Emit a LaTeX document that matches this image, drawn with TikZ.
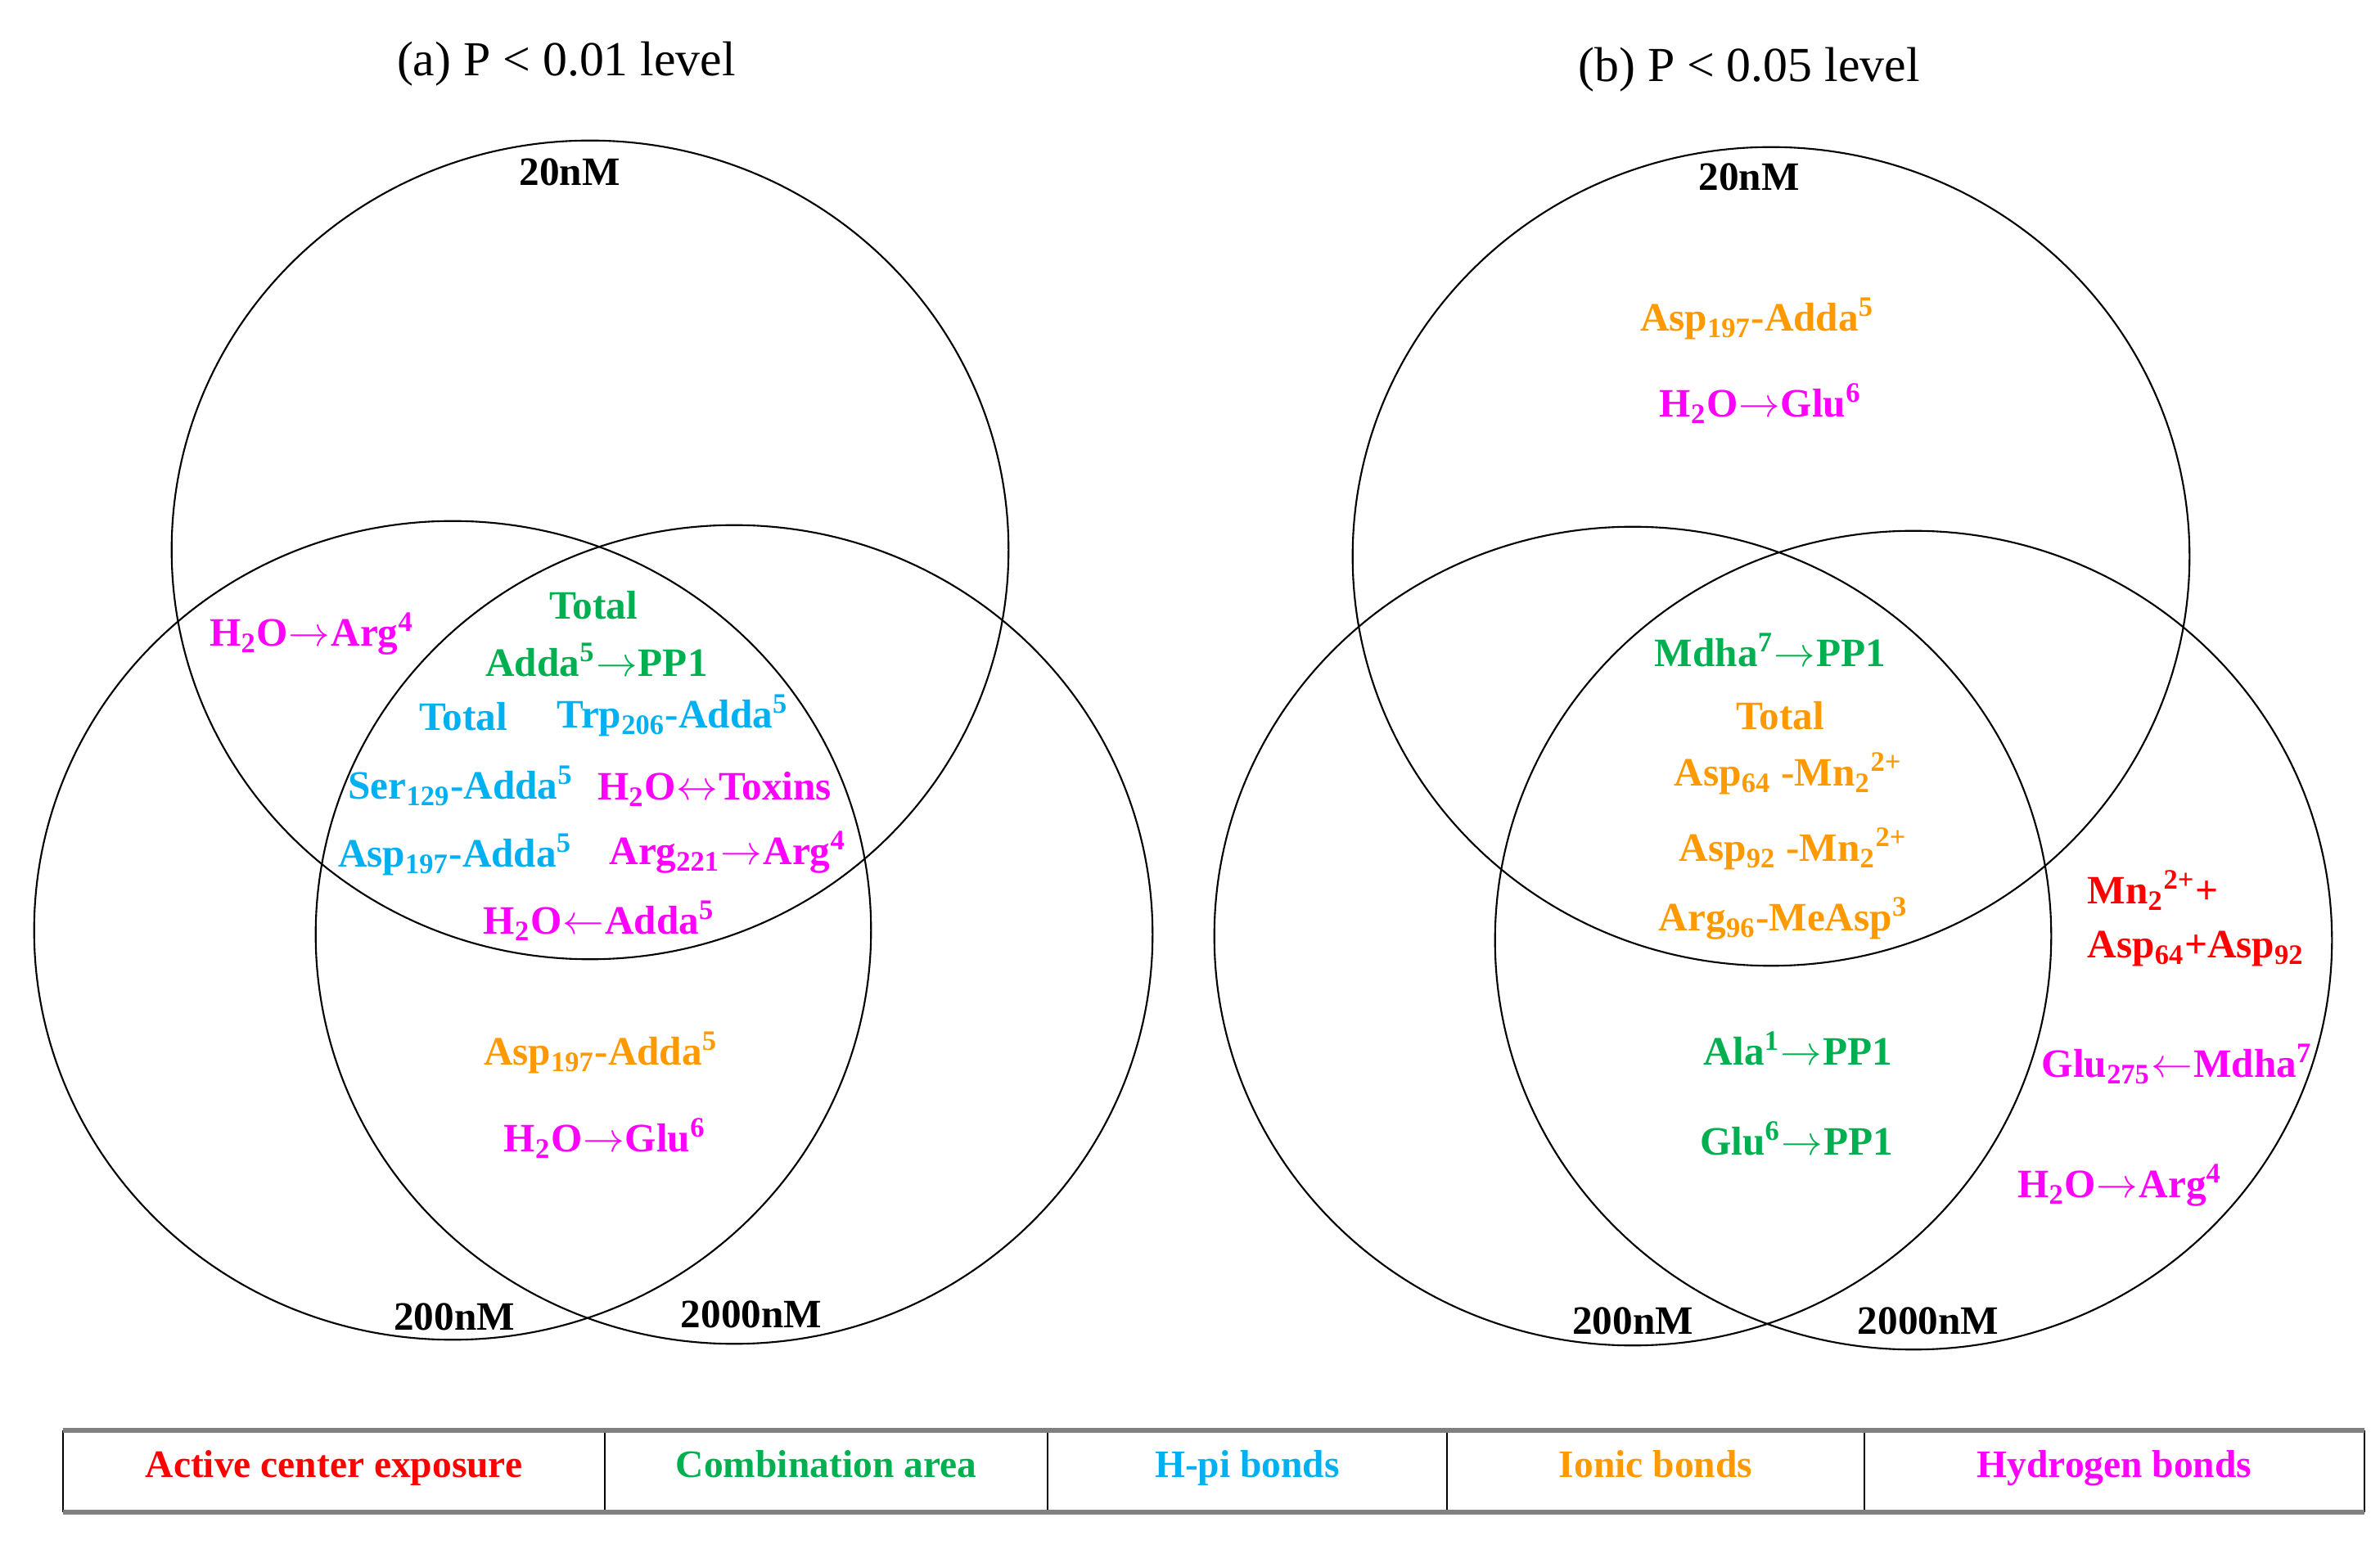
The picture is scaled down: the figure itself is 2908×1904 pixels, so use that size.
\documentclass[tikz,border=0pt]{standalone}
\usepackage{fontspec}
\setmainfont{Liberation Serif}
\definecolor{cRed}{RGB}{255,0,0}
\definecolor{cGreen}{RGB}{0,176,80}
\definecolor{cCyan}{RGB}{0,176,240}
\definecolor{cOrange}{RGB}{255,153,0}
\definecolor{cMag}{RGB}{255,0,255}
\definecolor{cRule}{RGB}{128,128,128}
\newcommand{\mysb}[1]{\textsubscript{#1}}
\newcommand{\mysp}[1]{\textsuperscript{#1}}
\newcommand{\myra}{\kern0.02em$\rightarrow$\kern0.02em}
\newcommand{\myla}{\kern0.02em$\leftarrow$\kern0.02em}
\newcommand{\mylra}{\kern0.02em$\leftrightarrow$\kern0.02em}
\begin{document}
\begin{tikzpicture}[x=0.01cm,y=-0.01cm,
  lab/.style={font=\fontsize{14}{16}\selectfont\bfseries,inner sep=0pt,anchor=base},
  ttl/.style={font=\fontsize{17}{20}\selectfont,inner sep=0pt,anchor=base},
  leg/.style={font=\fontsize{13.5}{16}\selectfont\bfseries,inner sep=0pt,anchor=base},
  venn/.style={line width=0.6pt,black},
  cellline/.style={line width=0.6pt,black},
  bandline/.style={line width=1.5pt,cRule},
]
\path[use as bounding box] (0,0) rectangle (2908,1904);

% ---------- (a) ----------
\node[ttl] (ta) at (692,93) {(a) P < 0.01 level};
\draw[venn] (721,672) ellipse [x radius=5.11cm, y radius=5.00cm];
\draw[venn] (553,1137) ellipse [x radius=5.11cm, y radius=5.00cm];
\draw[venn] (897,1142) ellipse [x radius=5.11cm, y radius=5.00cm];
\node[lab] (a20) at (696,227) {20nM};
\node[lab] (a200) at (555,1625) {200nM};
\node[lab] (a2000) at (918,1622) {2000nM};

\node[lab,cMag] (a1) at (381,790) {H\mysb{2}O\myra Arg\mysp{4}};
\node[lab,cGreen] (a2) at (725,757) {Total};
\node[lab,cGreen] (a3) at (729,827) {Adda\mysp{5}\myra PP1};
\node[lab,cCyan] (a4) at (566,893) {Total};
\node[lab,cCyan] (a5) at (822,890) {Trp\mysb{206}-Adda\mysp{5}};
\node[lab,cCyan] (a6) at (563,977) {Ser\mysb{129}-Adda\mysp{5}};
\node[lab,cMag] (a7) at (873,978) {H\mysb{2}O\mylra Toxins};
\node[lab,cCyan] (a8) at (556,1060) {Asp\mysb{197}-Adda\mysp{5}};
\node[lab,cMag] (a9) at (889,1057) {Arg\mysb{221}\myra Arg\mysp{4}};
\node[lab,cMag] (a10) at (732,1142) {H\mysb{2}O\myla Adda\mysp{5}};
\node[lab,cOrange] (a11) at (734,1302) {Asp\mysb{197}-Adda\mysp{5}};
\node[lab,cMag] (a12) at (739,1408) {H\mysb{2}O\myra Glu\mysp{6}};

% ---------- (b) ----------
\node[ttl] (tb) at (2137,100) {(b) P < 0.05 level};
\draw[venn] (2164,680) ellipse [x radius=5.11cm, y radius=5.00cm];
\draw[venn] (1995,1144) ellipse [x radius=5.11cm, y radius=5.00cm];
\draw[venn] (2338,1149) ellipse [x radius=5.11cm, y radius=5.00cm];
\node[lab] (b20) at (2137,233) {20nM};
\node[lab] (b200) at (1995,1630) {200nM};
\node[lab] (b2000) at (2356,1630) {2000nM};

\node[lab,cOrange] (b1) at (2147,405) {Asp\mysb{197}-Adda\mysp{5}};
\node[lab,cMag] (b2) at (2151,510) {H\mysb{2}O\myra Glu\mysp{6}};
\node[lab,cGreen] (b3) at (2163,815) {Mdha\mysp{7}\myra PP1};
\node[lab,cOrange] (b4) at (2175,892) {Total};
\node[lab,cOrange] (b5) at (2185,961) {Asp\mysb{64} -Mn\mysb{2}\mysp{2+}};
\node[lab,cOrange] (b6) at (2191,1053) {Asp\mysb{92} -Mn\mysb{2}\mysp{2+}};
\node[lab,cOrange] (b7) at (2179,1138) {Arg\mysb{96}-MeAsp\mysp{3}};
\node[lab,cRed,anchor=base west] (b8) at (2550,1105) {Mn\mysb{2}\mysp{2+}+};
\node[lab,cRed,anchor=base west] (b9) at (2550,1171) {Asp\mysb{64}+Asp\mysb{92}};
\node[lab,cGreen] (b10) at (2197,1302) {Ala\mysp{1}\myra PP1};
\node[lab,cGreen] (b11) at (2195,1412) {Glu\mysp{6}\myra PP1};
\node[lab,cMag] (b12) at (2660,1317) {Glu\mysb{275}\myla Mdha\mysp{7}};
\node[lab,cMag] (b13) at (2590,1464) {H\mysb{2}O\myra Arg\mysp{4}};

% ---------- legend ----------
\foreach \xx in {77,739,1280,1768,2278,2889}
  \draw[cellline] (\xx,1748) -- (\xx,1848);
\draw[bandline] (77,1748) -- (2889,1748);
\draw[bandline] (77,1848) -- (2889,1848);
\node[leg,cRed] (l1) at (408,1805) {Active center exposure};
\node[leg,cGreen] (l2) at (1009.5,1805) {Combination area};
\node[leg,cCyan] (l3) at (1524,1805) {H-pi bonds};
\node[leg,cOrange] (l4) at (2023,1805) {Ionic bonds};
\node[leg,cMag] (l5) at (2583.5,1805) {Hydrogen bonds};
\end{tikzpicture}
\end{document}
